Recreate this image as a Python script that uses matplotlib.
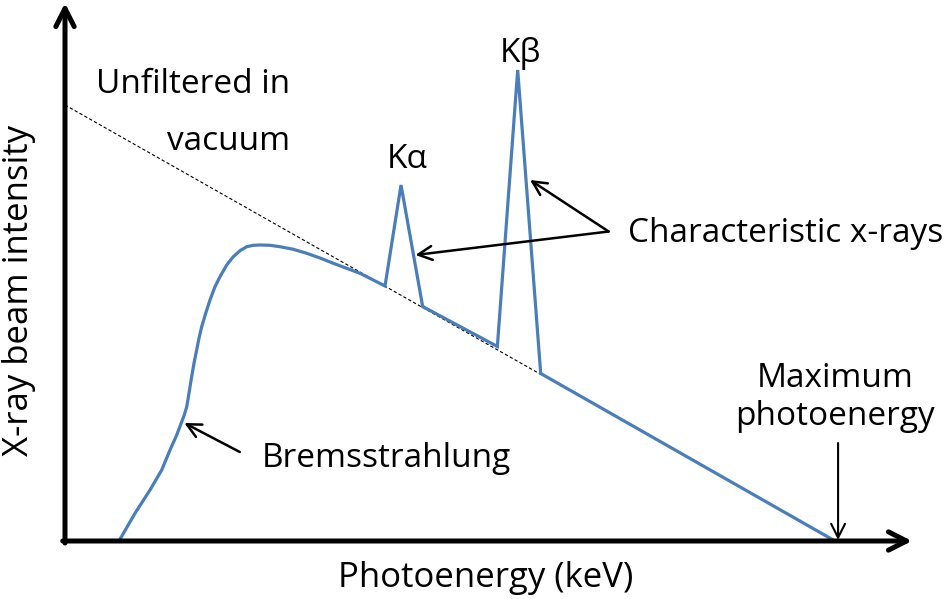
import matplotlib.pyplot as plt
from matplotlib.patches import FancyArrowPatch

plt.rcParams['font.family'] = ['Open Sans', 'DejaVu Sans']

# spectrum, photoenergy (0..100 = max) vs intensity (arbitrary units)
energy = [7.01, 9.09, 11.04, 12.56, 13.64, 14.51, 15.16, 15.49, 15.81, 16.10,
          16.45, 16.75, 17.10, 17.40, 17.75, 18.27, 18.83, 19.48, 20.13, 21.0,
          21.86, 22.73, 23.60, 24.45, 25.32, 26.62, 27.92, 29.65, 31.39, 33.12,
          34.84, 36.58, 38.31, 41.56, 43.64, 46.45, 56.15, 58.79, 61.78, 100.0]
intensity = [0.0, 5.54, 10.2, 14.2, 18.2, 21.2, 23.86, 25.2, 26.86, 29.54,
             32.86, 35.54, 38.2, 40.54, 42.86, 45.54, 48.2, 50.86, 52.86, 55.2,
             56.86, 58.06, 58.86, 59.14, 59.2, 59.14, 58.86, 58.34, 57.54, 56.6,
             55.54, 54.54, 53.54, 51.0, 71.2, 46.9, 38.9, 94.2, 33.5, 0.0]

# unfiltered (vacuum) straight line
unf_energy = [0.0, 62.0]
unf_intensity = [87.2, 87.2 * (1 - 62.0 / 100)]

fig = plt.figure(figsize=(9.5, 5.99), dpi=100)
ax = fig.add_axes([0, 0, 1, 1])
ax.set_xlim(-8.442, 114.935)
ax.set_ylim(-11.6, 108.2)
ax.axis('off')

fs = 24
fs_lab = 25

ax.plot(unf_energy, unf_intensity, color='k', lw=0.8, ls=(0, (3, 2)), zorder=1)
ax.plot(energy, intensity, color='#4A7EBB', lw=2.3, zorder=2,
        solid_joinstyle='miter')

# axes with arrow heads
def arrow(p0, p1, lw, hl, hw, ms=20):
    a = FancyArrowPatch(p0, p1, arrowstyle='->,head_length=%g,head_width=%g' % (hl, hw),
                        mutation_scale=ms, lw=lw, color='k', shrinkA=0, shrinkB=0,
                        zorder=3)
    ax.add_patch(a)

arrow((-0.3, 0), (110.0, 0), 3.6, 0.65, 0.33)
arrow((0, -0.4), (0, 107.6), 3.6, 0.65, 0.33)

# annotation arrows
arrow((22.7, 17.8), (15.5, 23.6), 1.8, 0.5, 0.25)
arrow((70.6, 61.9), (60.4, 72.2), 1.8, 0.5, 0.25)
arrow((70.6, 61.9), (45.5, 57.2), 1.8, 0.5, 0.25)
arrow((100.4, 19.6), (100.4, 0.2), 1.5, 0.5, 0.25)

ax.text(29.2, 89.6, 'Unfiltered in', fontsize=fs, ha='right', va='baseline')
ax.text(29.2, 78.2, 'vacuum', fontsize=fs, ha='right', va='baseline')
ax.text(44.4, 74.6, 'Kα', fontsize=fs, ha='center', va='baseline')
ax.text(59.1, 95.8, 'Kβ', fontsize=fs, ha='center', va='baseline')
ax.text(73.1, 59.8, 'Characteristic x-rays', fontsize=fs, ha='left', va='baseline')
ax.text(25.6, 14.8, 'Bremsstrahlung', fontsize=fs, ha='left', va='baseline')
ax.text(100.0, 30.8, 'Maximum', fontsize=fs, ha='center', va='baseline')
ax.text(100.0, 23.2, 'photoenergy', fontsize=fs, ha='center', va='baseline')
ax.text(54.6, -9.2, 'Photoenergy (keV)', fontsize=fs_lab, ha='center', va='baseline')
ax.text(-6.0, 50.0, 'X-ray beam intensity', fontsize=fs_lab, ha='center', va='center',
        rotation=90)

fig.savefig('out.png', dpi=100)
